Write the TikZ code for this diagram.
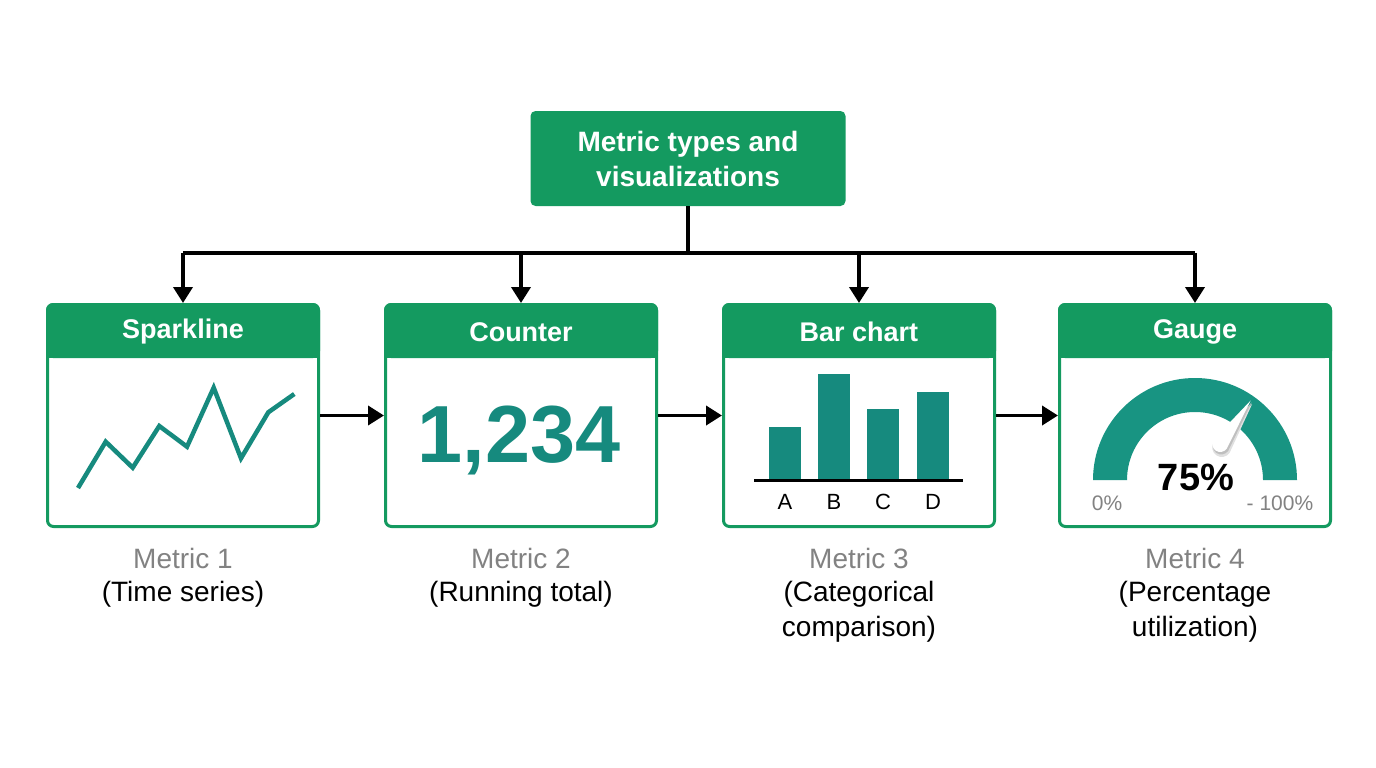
\documentclass[tikz,border=0pt]{standalone}
\usepackage{fontspec}
\setmainfont{Liberation Sans}
\usetikzlibrary{arrows.meta,calc}
\definecolor{hgreen}{RGB}{20,154,96}
\definecolor{teal2}{RGB}{22,138,126}
\definecolor{gteal}{RGB}{24,148,130}
\definecolor{lgray}{RGB}{130,130,130}
\tikzset{
  conn/.style={line width=3.8pt, draw=black, -{Triangle[length=16pt,width=19pt]}},
  panelbox/.style={draw=hgreen, line width=3pt, rounded corners=6pt, minimum width=271pt, minimum height=222pt, fill=white},
  headtxt/.style={text=white, font=\fontsize{27}{30}\selectfont\bfseries},
  gtxt/.style={text=lgray, font=\fontsize{28}{30}\selectfont},
  btxt/.style={text=black, font=\fontsize{28}{34.5}\selectfont, align=center},
}
\begin{document}
\begin{tikzpicture}[x=1pt,y=-1pt]
\useasboundingbox (0,0) rectangle (1376,768);
% top box
\node[fill=hgreen, rounded corners=5pt, minimum width=315pt, minimum height=95pt, text=white,
  font=\fontsize{28}{35}\selectfont\bfseries, align=center] (top) at (688,158.5) {Metric types and\\visualizations};
\coordinate (bus) at (688,252);
% panels
\foreach \i/\cx/\title in {1/183/Sparkline,2/521/Counter,3/859/Bar chart,4/1195/Gauge}{
  \node[panelbox] (p\i) at (\cx,415.5) {};
  \fill[hgreen, rounded corners=7pt] (p\i.north west) rectangle ([yshift=-55pt]p\i.north east);
  \fill[hgreen] ([yshift=-25pt]p\i.north west) rectangle ([yshift=-55pt]p\i.north east);
  \node[headtxt] (h\i) at (\cx,332) {\title};
}
% connectors
\draw[line width=3.8pt] (top.south) -- (bus);
\draw[line width=3.8pt] ($(p1.north)+(0,-50)$) -- ($(p4.north)+(0,-50)$);
\foreach \i in {1,2,3,4}{
  \draw[conn] ($(p\i.north)+(0,-50)$) -- (p\i.north);
}
\draw[conn] (p1.east) -- (p2.west);
\draw[conn] (p2.east) -- (p3.west);
\draw[conn] (p3.east) -- (p4.west);
% sparkline
\draw[teal2, line width=4.5pt, line join=miter] (78,488) -- (105.7,441.7) -- (132.7,467.7) -- (159.3,426) -- (187,446.7) -- (213.7,387.7) -- (241,458.3) -- (268.3,412.3) -- (294.3,394);
% counter
\node[text=teal2, font=\fontsize{81}{81}\selectfont\bfseries, anchor=base] (cnt) at (519,462) {1,234};
% bar chart
\fill[teal2] (768.7,480) rectangle (800.7,427.3);
\fill[teal2] (818.3,480) rectangle (850,374.3);
\fill[teal2] (867.3,480) rectangle (899.3,409.3);
\fill[teal2] (916.7,480) rectangle (948.7,391.7);
\draw[line width=3pt] (754,480) -- (963,480);
\foreach \l/\x in {A/785,B/834,C/883,D/933}{
  \node[font=\fontsize{22}{22}\selectfont] (bl\l) at (\x,502) {\l};
}
% gauge
\begin{scope}[shift={(1195,480)}, yscale=-1]
  \fill[gteal] (-102,0) arc[start angle=180, end angle=0, radius=102] -- (68,0) arc[start angle=0, end angle=180, radius=68] -- cycle;
  \fill[black!12] ($(55:97)+(1.5,-3.5)$) -- ($(55:44)+(145:9.5)+(1.5,-3.5)$) arc[start angle=145, end angle=325, radius=9.5] -- cycle;
  \fill[black!25] ($(55:97)+(1,-2)$) -- ($(55:44)+(145:8.5)+(1,-2)$) arc[start angle=145, end angle=325, radius=8.5] -- cycle;
  \fill[white] (55:97) -- ($(55:44)+(145:8)$) arc[start angle=145, end angle=325, radius=8] -- cycle;
\end{scope}
\node[font=\fontsize{38}{38}\selectfont\bfseries, anchor=base] (pct) at (1196,490) {75\%};
\node[text=lgray, font=\fontsize{21}{21}\selectfont] (g0) at (1107,503) {0\%};
\node[text=lgray, font=\fontsize{21}{21}\selectfont] (g100) at (1280,503) {- 100\%};
% labels
\node[gtxt] (m1) at (183,558) {Metric 1};
\node[btxt, anchor=north] (d1) at (183,578) {(Time series)};
\node[gtxt] (m2) at (521,558) {Metric 2};
\node[btxt, anchor=north] (d2) at (521,578) {(Running total)};
\node[gtxt] (m3) at (859,558) {Metric 3};
\node[btxt, anchor=north] (d3) at (859,578) {(Categorical\\comparison)};
\node[gtxt] (m4) at (1195,558) {Metric 4};
\node[btxt, anchor=north] (d4) at (1195,578) {(Percentage\\utilization)};
\end{tikzpicture}
\end{document}
